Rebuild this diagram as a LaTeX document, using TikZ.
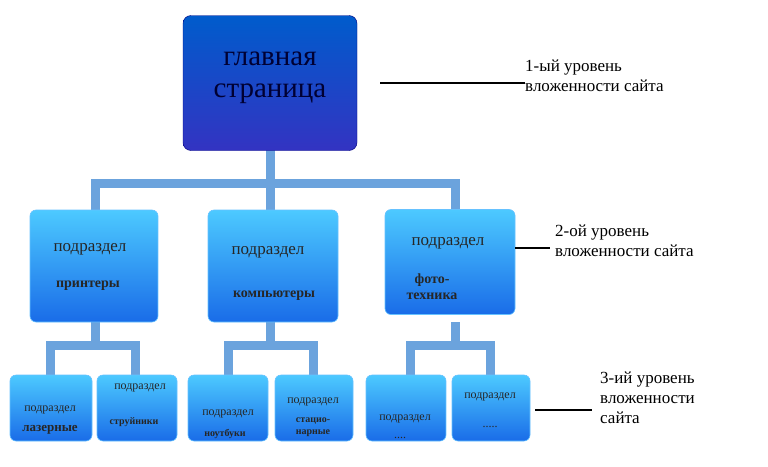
\documentclass[tikz,border=0pt]{standalone}
\usepackage{fontspec}
\setmainfont{Liberation Serif}
\begin{document}
\begin{tikzpicture}[x=1pt,y=-1pt,
 conn/.style={draw=cyan!60!blue!60, line width=9pt},
 box/.style={rounded corners=6pt, top color=blue!30!cyan!70!white, bottom color=blue!60!cyan!90!black!90, draw=blue!40!cyan!60, line width=0.6pt, drop shadow/.try},
 lbl/.style={font=\fontsize{17}{20}\selectfont, anchor=north west, align=left, inner sep=0},
 mid/.style={font=\fontsize{17}{20}\selectfont, text=black!85, inner sep=0},
 sm/.style={font=\fontsize{12}{14}\selectfont, text=black!85, inner sep=0},
 lead/.style={line width=2pt}]
\useasboundingbox (0,0) rectangle (768,466);
% connectors
\coordinate (t1) at (270,150); \coordinate (t2) at (270,183);
\draw[conn] (t1) -- (t2);
\draw[conn] (95,210) -- (95,183) -- (455,183) -- (455,210);
\draw[conn] (t2) -- (270,210);
\foreach \c/\a/\b in {95/50/135, 270/228/313, 455/410/490}{
 \draw[conn] (\c,322) -- (\c,345);
 \draw[conn] (\a,376) -- (\a,345) -- (\b,345) -- (\b,376);}
% top
\node[rounded corners=8pt, top color=blue!55!cyan!80!black, bottom color=blue!70!black!80, draw=blue!50!black, minimum width=174pt, minimum height=135pt] (top) at (270,83) {};
\node[font=\fontsize{29}{32}\selectfont, align=center, text=black!80!blue] (toptxt) at (270,78) {главная\\страница};
% level 2
\foreach \n/\x/\w/\y/\h in {a/94/128/266/112, b/273/130/266/112, c/450/130/262/105}{
 \node[box, minimum width=\w pt, minimum height=\h pt] (\n) at (\x,\y) {};}
\node[mid] (at) at (90,249) {подраздел};
\node[sm, font=\bfseries\fontsize{14}{16}\selectfont] (at2) at (88,286) {принтеры};
\node[mid] (bt) at (268,252) {подраздел};
\node[sm, font=\bfseries\fontsize{14}{16}\selectfont] (bt2) at (274,296) {компьютеры};
\node[mid] (ct) at (448,243) {подраздел};
\node[sm, font=\bfseries\fontsize{14}{16}\selectfont, align=center] (ct2) at (432,287) {фото-\\техника};
% level 3
\foreach \n/\x/\w in {d/51/82, e/137/80, f/228/80, g/314/78, h/406/80, i/491/78}{
 \node[box, minimum width=\w pt, minimum height=66pt] (\n) at (\x,408) {};}
\node[sm] (dt) at (50,410) {подраздел};
\node[sm, font=\bfseries\fontsize{13}{15}\selectfont] (dt2) at (50,430) {лазерные};
\node[sm] (et) at (140,388) {подраздел};
\node[sm, font=\bfseries\fontsize{10}{12}\selectfont] (et2) at (134,422) {струйники};
\node[sm] (ft) at (228,414) {подраздел};
\node[sm, font=\bfseries\fontsize{10}{12}\selectfont] (ft2) at (225,434) {ноутбуки};
\node[sm] (gt) at (313,402) {подраздел};
\node[sm, font=\bfseries\fontsize{10}{12}\selectfont, align=center] (gt2) at (313,427) {стацио-\\нарные};
\node[sm] (ht) at (405,419) {подраздел};
\node[sm] (ht2) at (400,438) {....};
\node[sm] (it) at (490,397) {подраздел};
\node[sm] (it2) at (490,427) {.....};
% level labels
\node[lbl] (l1) at (525,60) {1-ый уровень\\вложенности сайта};
\node[lbl] (l2) at (555,225) {2-ой уровень\\вложенности сайта};
\node[lbl] (l3) at (600,372) {3-ий уровень\\вложенности\\сайта};
\coordinate (p1) at (380,83); \coordinate (p2) at (515,248); \coordinate (p3) at (535,410);
\draw[lead] (p1) -- (l1.west|-p1);
\draw[lead] (p2) -- (550,248);
\draw[lead] (p3) -- (592,410);
\end{tikzpicture}
\end{document}
